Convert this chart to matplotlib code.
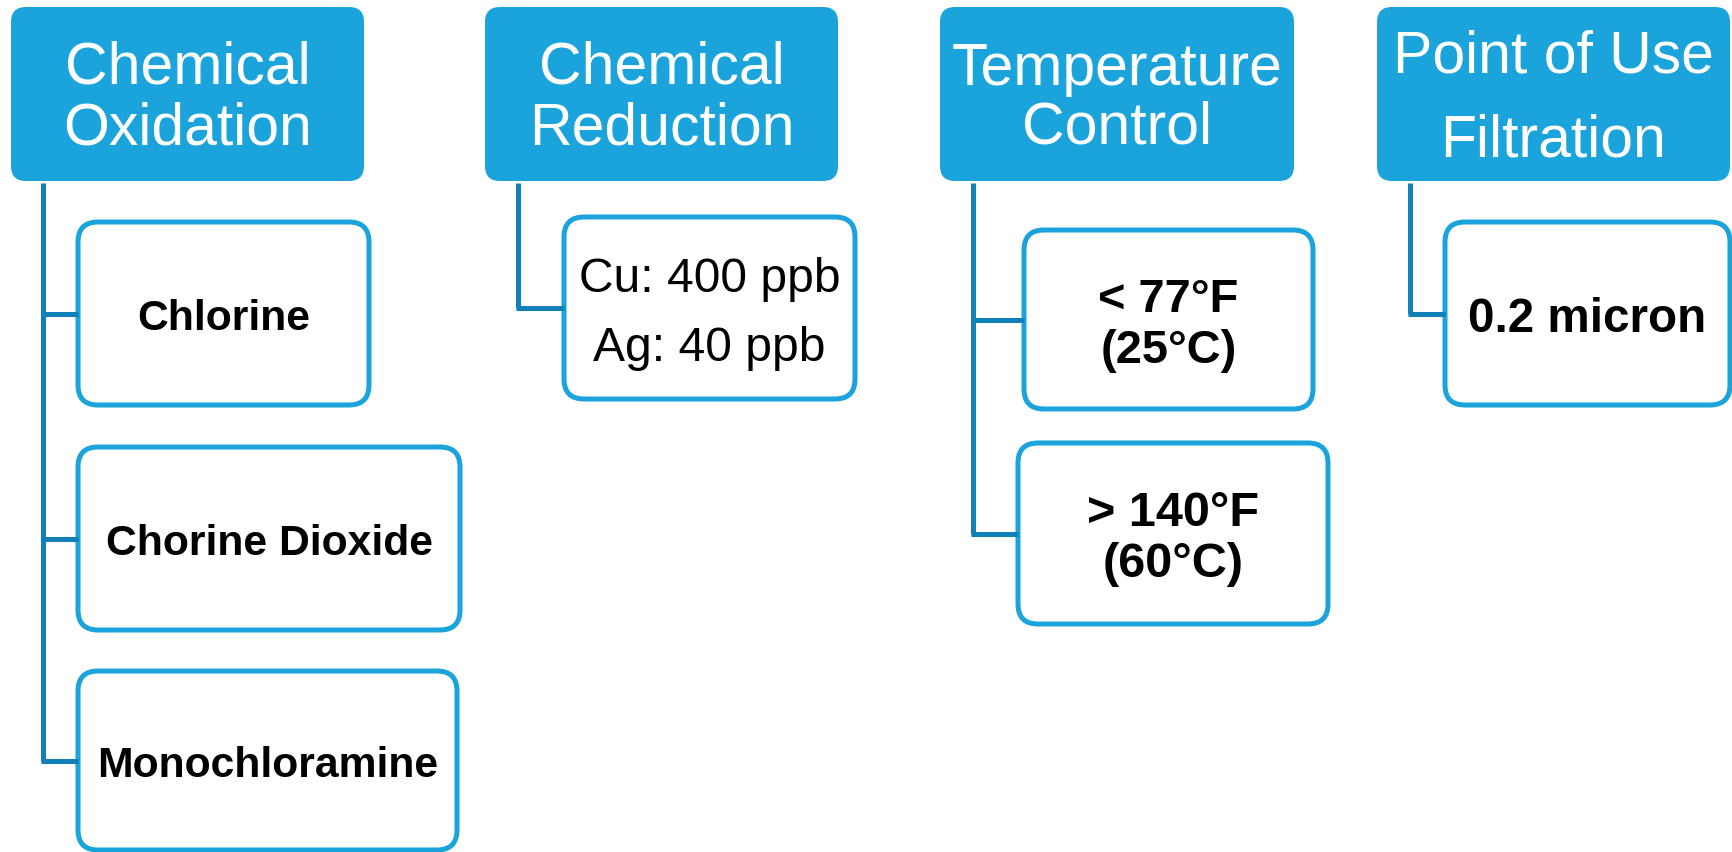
import matplotlib.pyplot as plt
from matplotlib.patches import FancyBboxPatch

plt.rcParams['font.family'] = ['Liberation Sans', 'DejaVu Sans']

# diagram content
headers = [['Chemical', 'Oxidation'],
           ['Chemical', 'Reduction'],
           ['Temperature', 'Control'],
           ['Point of Use', 'Filtration']]
children = [[['Chlorine'], ['Chorine Dioxide'], ['Monochloramine']],
            [['Cu: 400 ppb', 'Ag: 40 ppb']],
            [['< 77°F', '(25°C)'], ['> 140°F', '(60°C)']],
            [['0.2 micron']]]
child_bold = [True, False, True, True]

# layout in pixels (x0, x1) for headers, connector x per column
header_x = [(11, 364), (485, 838), (940, 1294), (1377, 1730)]
header_y = (8, 182)
header_spacing = [61, 61, 59, 84]
connector_x = [43, 518, 973, 1410]
# child boxes: (x0, x1, y0, y1), font size in pt, line spacing px
child_boxes = [[(78, 369, 223, 406), (78, 460, 448, 631), (78, 457, 672, 851)],
               [(564, 855, 218, 400)],
               [(1024, 1313, 231, 410), (1018, 1328, 444, 625)],
               [(1445, 1730, 223, 406)]]
child_size = [[30.7, 30.7, 30.7], [34.6], [33.8, 35], [34.3]]
child_spacing = [0, 69, 51, 0]

fill = '#1BA3DB'
line_col = '#1080B8'
W, H = 1732, 853

fig = plt.figure(figsize=(W / 100, H / 100), dpi=100)
ax = fig.add_axes([0, 0, 1, 1])
ax.set_xlim(0, W)
ax.set_ylim(H, 0)
ax.axis('off')


def put_lines(lines, cx, cy, size, spacing, **kw):
    cap = 0.716 * size / 0.72
    n = len(lines)
    for i, s in enumerate(lines):
        y = cy + cap / 2 + (i - (n - 1) / 2) * spacing
        ax.text(cx, y, s, ha='center', va='baseline', fontsize=size, **kw)


for k, head in enumerate(headers):
    x0, x1 = header_x[k]
    y0, y1 = header_y
    ax.add_patch(FancyBboxPatch((x0, y0), x1 - x0, y1 - y0,
                                boxstyle='round,pad=0,rounding_size=15',
                                fc=fill, ec='none'))
    put_lines(head, (x0 + x1) / 2, 93, 42.4, header_spacing[k], color='white')

    # connector
    cx = connector_x[k]
    branch_y = [(b[2] + b[3]) / 2 for b in child_boxes[k]]
    ax.plot([cx, cx], [y1 + 2, max(branch_y)], color=line_col, lw=3.6,
            solid_capstyle='butt')
    for b, by in zip(child_boxes[k], branch_y):
        ax.plot([cx - 1.8, b[0]], [by, by], color=line_col, lw=3.6,
                solid_capstyle='butt')

    for j, lines in enumerate(children[k]):
        bx0, bx1, by0, by1 = child_boxes[k][j]
        ax.add_patch(FancyBboxPatch((bx0, by0), bx1 - bx0, by1 - by0,
                                    boxstyle='round,pad=0,rounding_size=20',
                                    fc='white', ec=fill, lw=3.6))
        put_lines(lines, (bx0 + bx1) / 2, (by0 + by1) / 2, child_size[k][j],
                  child_spacing[k], color='black',
                  fontweight='bold' if child_bold[k] else 'normal')

fig.savefig('out.png', dpi=100)
